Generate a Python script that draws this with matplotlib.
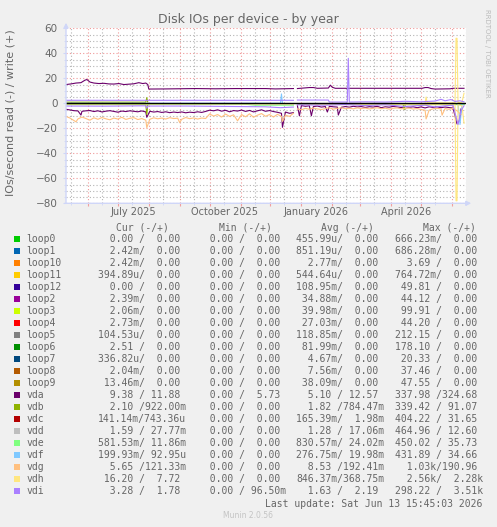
"""
Munin style chart: Disk IOs per device, yearly view (reads negative, writes positive).
"""
import datetime as dt
import numpy as np
import matplotlib
matplotlib.use("Agg")
import matplotlib.pyplot as plt
from matplotlib.patches import Rectangle, FancyArrowPatch

W, H = 497, 527
START = dt.datetime(2025, 5, 10)
GAP_DAY = 229.5

devices = ["loop0", "loop1", "loop10", "loop11", "loop12", "loop2", "loop3", "loop4",
           "loop5", "loop6", "loop7", "loop8", "loop9", "vda", "vdb", "vdc", "vdd",
           "vde", "vdf", "vdg", "vdh", "vdi"]
colors = ["#00CC00", "#0066B3", "#FF8000", "#FFCC00", "#330099", "#990099", "#CCFF00",
          "#FF0000", "#808080", "#008F00", "#00487D", "#B35A00", "#B38F00", "#6B006B",
          "#8FB300", "#B30000", "#BEBEBE", "#80FF80", "#80C9FF", "#FFC080", "#FFE680",
          "#AA80FF"]

# legend table
cur_read = ["0.00", "2.42m", "2.42m", "394.89u", "0.00", "2.39m", "2.06m", "2.73m", "104.53u",
            "2.51", "336.82u", "2.04m", "13.46m", "9.38", "2.10", "141.14m", "1.59",
            "581.53m", "199.93m", "5.65", "16.20", "3.28"]
cur_write = ["0.00"] * 13 + ["11.88", "922.00m", "743.36u", "27.77m", "11.86m", "92.95u",
                             "121.33m", "7.72", "1.78"]
min_read = ["0.00"] * 22
min_write = ["0.00"] * 13 + ["5.73", "0.00", "0.00", "0.00", "0.00", "0.00", "0.00", "0.00",
                             "96.50m"]
avg_read = ["455.99u", "851.19u", "2.77m", "544.64u", "108.95m", "34.88m", "39.98m", "27.03m",
            "118.85m", "81.99m", "4.67m", "7.56m", "38.09m", "5.10", "1.82", "165.39m", "1.28",
            "830.57m", "276.75m", "8.53", "846.37m", "1.63"]
avg_write = ["0.00"] * 13 + ["12.57", "784.47m", "1.98m", "17.06m", "24.02m", "19.98m",
                             "192.41m", "368.75m", "2.19"]
max_read = ["666.23m", "686.28m", "3.69", "764.72m", "49.81", "44.12", "99.91", "44.20",
            "212.15", "178.10", "20.33", "37.46", "47.55", "337.98", "339.42", "404.22",
            "464.96", "450.02", "431.89", "1.03k", "2.56k", "298.22"]
max_write = ["0.00"] * 13 + ["324.68", "91.07", "31.65", "12.60", "35.73", "34.66", "190.96",
                             "2.28k", "3.51k"]

# ---- series (day offsets from START) ----
grid_days = np.arange(0, 400, 4)

vda_read = [-4.8, -5.3, -5.9, -6.1, -6.4, -6.0, -5.8, -6.6, -6.0, -6.9,
            -6.3, -5.9, -6.5, -7.1, -6.2, -6.6, -6.0, -6.4, -6.8, -6.1,
            -6.9, -6.4, -7.0, -6.6, -7.3, -6.8, -7.5, -7.0, -7.4, -6.9,
            -7.6, -7.1, -7.4, -6.8, -7.3, -6.5, -5.5, -6.0, -5.2, -6.3,
            -5.6, -6.8, -5.8, -6.2, -5.4, -6.5, -5.7, -6.9, -6.0, -5.2,
            -6.4, -5.8, -6.6, -7.2, -8.0, -7.0, -8.0, -7.5, -2.0, -1.8,
            -2.4, -2.0, -2.6, -2.2, -3.0, -2.6, -2.4, -2.8, -3.0, -3.2,
            -2.6, -3.1, -2.4, -2.9, -2.6, -3.3, -2.7, -3.0, -2.4, -3.5,
            -2.8, -3.1, -2.5, -2.9, -3.4, -2.7, -3.2, -2.8, -3.5, -2.9,
            -3.7, -2.8, -3.3, -2.9, -3.5, -3.0, -3.4, -3.8, -4.0, -4.5]
vda_read_spikes = [(15, -9.4), (81, -11.2), (217, -19.2), (234, -10.0), (246, -10.0),
                   (262, -7.0), (273, -9.4), (392, -16.5), (395, -13.0)]

vdg_read = [-10.5, -11.8, -13.8, -12.5, -11.0, -12.2, -13.5, -11.6, -12.8, -11.4,
            -12.4, -13.2, -11.8, -12.6, -11.2, -12.9, -12.0, -11.5, -13.0, -12.2,
            -13.5, -12.8, -11.6, -12.4, -11.8, -12.6, -11.5, -12.2, -11.9, -12.8,
            -11.4, -12.3, -11.7, -12.6, -11.8, -12.2, -8.5, -10.2, -9.0, -11.0,
            -8.6, -10.5, -9.2, -10.8, -9.0, -10.8, -8.4, -11.2, -9.5, -8.2,
            -10.4, -9.0, -11.0, -8.8, -10.5, -9.5, -10.5, -8.0, -4.5, -5.2,
            -4.0, -4.8, -3.8, -4.5, -5.0, -4.2, -3.6, -4.6, -4.0, -3.6,
            -4.3, -3.9, -4.4, -3.7, -4.2, -3.8, -4.5, -4.0, -3.6, -4.3,
            -3.9, -4.6, -4.0, -3.7, -4.4, -4.1, -3.8, -4.6, -4.2, -5.0,
            -5.5, -5.5, -4.4, -4.0, -4.5, -4.2, -4.8, -4.0, -6.0, -9.0]
vdg_read_spikes = [(10, -14.8), (81, -19.5), (114, -15.5), (172, -14.0), (217, -14.5),
                   (361, -12.5), (377, -9.5)]

vda_write = [(0, 15.0), (5, 15.5), (10, 16.2), (15, 16.5), (19, 18.5), (21, 19.0), (24, 17.0),
             (28, 16.2), (33, 15.8), (38, 16.0), (43, 15.5), (48, 15.4), (53, 15.8), (58, 15.0),
             (63, 15.3), (68, 15.6), (73, 16.5), (77, 15.8), (80, 16.2), (82, 15.0), (83, 11.4),
             (100, 11.5), (130, 11.8), (150, 11.6), (170, 11.8), (200, 11.8), (210, 11.5),
             (228, 11.8), (232, 11.8), (244, 12.6), (248, 12.6), (252, 12.0), (263, 12.2),
             (265, 14.5), (267, 12.8), (270, 12.0), (357, 12.0), (360, 12.6), (363, 12.6),
             (366, 11.8), (370, 11.4), (385, 11.6), (388, 12.0), (399, 12.0)]

vdi_write = [(0, 2.4), (228, 2.4), (232, 2.6), (263, 2.6), (264, 1.0), (282, 1.0), (283, 36.0),
             (284, 1.0), (300, 1.2), (320, 1.0), (340, 1.6), (355, 1.2), (370, 1.8),
             (376, 3.2), (380, 2.0), (386, 3.0), (390, 1.5), (395, 2.0), (399, 1.2)]
vdi_read = [(0, -2.2), (40, -2.3), (80, -2.0), (81, -4.0), (82, -2.2), (120, -2.2),
            (160, -2.5), (200, -2.8), (215, -3.5), (228, -3.0), (232, -1.2), (260, -1.5),
            (280, -1.0), (300, -1.8), (320, -1.2), (340, -2.5), (360, -1.5), (370, -3.0),
            (380, -2.0), (388, -1.5), (393, -17.0), (396, -6.0), (399, -2.0)]

vdh_write = [(0, 0.4), (360, 0.4), (361, 5.0), (362, 0.4), (390, 0.4), (391, 52.0),
             (392, 52.0), (393, 0.5), (397, 1.0), (399, 8.0)]
vdh_read = [(0, -0.6), (228, -0.6), (232, -0.8), (390, -0.8), (391, -78.0), (392, -78.0),
            (393, -1.0), (397, -2.0), (399, -16.0)]

vdb_write = [(0, 0.9), (80, 0.9), (81, 4.5), (82, 0.9), (399, 0.9)]
vdb_read = [(0, -1.0), (80, -1.0), (81, -9.0), (82, -1.0), (338, -1.0), (339, -5.0),
            (340, -1.0), (399, -1.0)]

vde_read = [(0, -0.6), (180, -0.8), (190, -1.5), (228, -1.5), (232, -0.8), (399, -0.8)]
vdd_read = [(0, -1.2), (399, -1.2)]
vdc_read = [(0, -0.17), (399, -0.17)]
vdf_write = [(0, 0.05), (215, 0.05), (216, 7.5), (217, 0.05), (399, 0.05)]
vdf_read = [(0, -0.3), (393, -0.3), (395, -17.0), (397, -0.3), (399, -0.3)]

loop_read = {"loop12": -0.11, "loop5": -0.12, "loop6": -0.08, "loop2": -0.035,
             "loop3": -0.04, "loop4": -0.027, "loop9": -0.038}


def from_grid(vals, spikes):
    pts = dict(zip(grid_days.tolist(), vals))
    pts.update(dict(spikes))
    return sorted(pts.items())


def to_xy(pts):
    pts = sorted(pts + [(GAP_DAY, np.nan)])
    d = np.array([p[0] for p in pts], dtype=float)
    v = np.array([p[1] for p in pts], dtype=float)
    x = [START + dt.timedelta(days=float(k)) for k in d]
    return x, v


reads = {"vda": from_grid(vda_read, vda_read_spikes),
         "vdb": vdb_read, "vdc": vdc_read, "vdd": vdd_read, "vde": vde_read,
         "vdf": vdf_read, "vdg": from_grid(vdg_read, vdg_read_spikes),
         "vdh": vdh_read, "vdi": vdi_read}
for k, val in loop_read.items():
    reads[k] = [(0, val), (399, val)]
writes = {"vda": vda_write, "vdb": vdb_write, "vdf": vdf_write, "vdh": vdh_write,
          "vdi": vdi_write}

# ---- figure ----
TXT = "#666666"
AXC = "#CFD6F8"
fig = plt.figure(figsize=(W / 100, H / 100), dpi=100, facecolor="#F0F0F0")
ax = fig.add_axes([66 / W, 1 - 203.3 / H, 400 / W, 175 / H])
ax.set_facecolor("white")

for name, col in zip(devices, colors):
    if name in reads:
        x, y = to_xy(reads[name])
        ax.plot(x, y, color=col, lw=0.8, zorder=2)
    if name in writes:
        x, y = to_xy(writes[name])
        ax.plot(x, y, color=col, lw=0.8, zorder=2)
ax.axhline(0, color="black", lw=1.0, zorder=3)

ax.set_xlim(START, START + dt.timedelta(days=400))
ax.set_ylim(-80, 60)

month_starts = [dt.datetime(2025 + (m - 1) // 12, (m - 1) % 12 + 1, 1) for m in range(6, 19)]
mid_months = [dt.datetime(2025 + (m - 1) // 12, (m - 1) % 12 + 1, 15) for m in range(5, 19)]
ax.set_xticks(month_starts)
ax.set_xticks(mid_months, minor=True)
ax.set_xticklabels([])
ax.set_yticks(range(-80, 61, 20))
ax.set_yticks(range(-80, 61, 5), minor=True)
ax.tick_params(axis="y", which="major", labelsize=7.5, labelcolor=TXT, color=AXC,
               length=2, pad=4)
ax.tick_params(axis="both", which="minor", color=AXC, length=1.5)
ax.tick_params(axis="x", which="major", color="#f0a0a0", length=2)
ax.grid(which="minor", color="#b4b4b4", ls=(0, (1, 2)), lw=0.8, zorder=0)
ax.grid(which="major", color="#f09898", ls=(0, (1, 2)), lw=0.8, zorder=0)
for s in ax.spines.values():
    s.set_visible(False)

label_months = [dt.datetime(2025, 7, 16), dt.datetime(2025, 10, 16),
                dt.datetime(2026, 1, 16), dt.datetime(2026, 4, 16)]
for d in label_months:
    ax.text(d, -0.05, d.strftime("%B %Y"), transform=ax.get_xaxis_transform(),
            ha="center", va="center", fontsize=7, color=TXT)


def fx(px):
    return px / W


def fy(py):
    return 1 - py / H


fig.add_artist(FancyArrowPatch((fx(66), fy(206)), (fx(66), fy(20)), transform=fig.transFigure,
                               arrowstyle="-|>", mutation_scale=7, color=AXC, lw=1))
fig.add_artist(FancyArrowPatch((fx(62), fy(203.3)), (fx(474), fy(203.3)),
                               transform=fig.transFigure, arrowstyle="-|>", mutation_scale=7,
                               color=AXC, lw=1))

fig.text(0.5, fy(19), "Disk IOs per device - by year", ha="center", va="center",
         fontsize=9, color=TXT)
fig.text(fx(11), fy(113), "IOs/second read (-) / write (+)", rotation=90, ha="center",
         va="center", fontsize=8, color=TXT)
fig.text(fx(487), fy(53), "RRDTOOL / TOBI OETIKER", rotation=270, ha="center",
         va="center", fontsize=5, color="#bbbbbb")

# ---- legend ----
mono = {"family": "DejaVu Sans Mono", "fontsize": 7, "color": TXT}
col_x = [98.3, 197.7, 296, 395]
head_x = [116, 219, 321, 422.7]
for hx, h in zip(head_x, ["Cur (-/+)", "Min (-/+)", "Avg (-/+)", "Max (-/+)"]):
    fig.text(fx(hx), fy(227.7), h, ha="left", va="center", **mono)


def fld(v):
    s = v if v[-1].isalpha() else v + " "
    return s.rjust(7)


cols = [(cur_read, cur_write), (min_read, min_write), (avg_read, avg_write),
        (max_read, max_write)]
for i, (name, col) in enumerate(zip(devices, colors)):
    yc = 239.3 + 12 * i
    fig.patches.append(Rectangle((fx(14), fy(yc + 3)), 6 / W, 6 / H, transform=fig.transFigure,
                                 facecolor=col, edgecolor="none"))
    fig.text(fx(26.7), fy(yc), name, ha="left", va="center", **mono)
    for cx, (r, w) in zip(col_x, cols):
        fig.text(fx(cx), fy(yc), fld(r[i]) + "/" + fld(w[i]), ha="left", va="center", **mono)

fig.text(fx(482.7), fy(503.7), "Last update: Sat Jun 13 15:45:03 2026", ha="right",
         va="center", **mono)
fig.text(fx(248), fy(516), "Munin 2.0.56", ha="center", va="center", fontsize=5.5,
         color="#c4c4c4")

fig.savefig("out.png", dpi=100, facecolor=fig.get_facecolor())
